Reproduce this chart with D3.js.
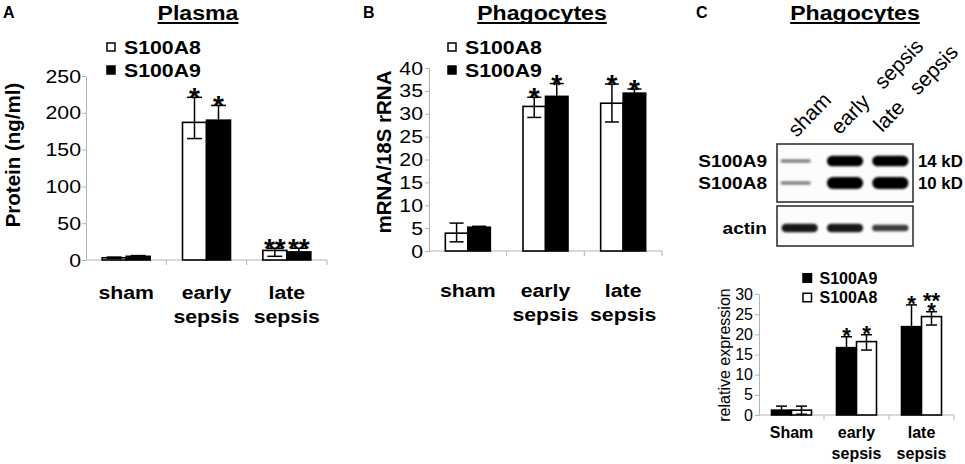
<!DOCTYPE html>
<html>
<head>
<meta charset="utf-8">
<script src="https://cdn.jsdelivr.net/npm/d3@7"></script>
<style>
  body { margin: 0; background: #fff; }
  svg { font-family: "Liberation Sans", Arial, sans-serif; }
</style>
</head>
<body>
<script>
const width = 965;
const height = 464;

// categories
const groupsAB = ["sham", "early sepsis", "late sepsis"];
const groupsC = ["Sham", "early sepsis", "late sepsis"];

// panel A - plasma protein (ng/ml)
const plasmaA8 = [3, 187, 13];
const plasmaA8Lo = [2, 165, 5];
const plasmaA8Hi = [4, 221, 16];
const plasmaA9 = [5, 190, 11];
const plasmaA9Lo = [4, 170, 6];
const plasmaA9Hi = [6, 210, 16];
const plasmaStarsA8 = ["", "*", "**"];
const plasmaStarsA9 = ["", "*", "**"];

// panel B - phagocyte mRNA/18S rRNA
const mrnaA8 = [3.9, 31.6, 32.3];
const mrnaA8Lo = [2.0, 29.2, 28.2];
const mrnaA8Hi = [6.1, 33.6, 36.5];
const mrnaA9 = [5.2, 33.8, 34.5];
const mrnaA9Lo = [5.0, 31.0, 33.6];
const mrnaA9Hi = [5.4, 36.6, 35.4];
const mrnaStarsA8 = ["", "*", "*"];
const mrnaStarsA9 = ["", "*", "*"];

// panel C - relative expression from blot
const relA9 = [1.2, 16.7, 21.9];
const relA9Lo = [0.2, 14.0, 16.5];
const relA9Hi = [2.2, 19.4, 27.3];
const relA8 = [1.2, 18.2, 24.4];
const relA8Lo = [0.2, 16.1, 22.3];
const relA8Hi = [2.2, 19.9, 25.6];
const relStarsA9 = ["", "*", "*"];
const relStarsA8 = ["", "*", "**|*"];

// blot lanes and band intensities (0..1)
const blotLanes = ["sham", "early\u00a0\u00a0\u00a0sepsis", "late\u00a0\u00a0\u00a0sepsis"];
const blotA9 = [0.15, 0.85, 0.85];
const blotA8 = [0.15, 1.0, 1.0];
const blotActin = [0.65, 0.65, 0.45];

const tickAB = [0, 50, 100, 150, 200, 250];
const tickB = d3.range(0, 41, 5);
const tickC = d3.range(0, 31, 5);

const svg = d3.select("body").append("svg")
  .attr("width", width)
  .attr("height", height);

const defs = svg.append("defs");
defs.append("filter").attr("id", "blur")
  .attr("x", "-20%").attr("y", "-60%").attr("width", "140%").attr("height", "220%")
  .append("feGaussianBlur").attr("stdDeviation", 1.3);

// widen text horizontally like the source figure
function stretch(sel, sx) {
  sel.each(function() {
    const x = +this.getAttribute("x") || 0;
    const y = +this.getAttribute("y") || 0;
    this.setAttribute("transform", `translate(${x},${y}) scale(${sx},1) translate(${-x},${-y})`);
  });
  return sel;
}

function title(cx, str, sx) {
  const t = svg.append("text")
    .attr("x", cx).attr("y", 20)
    .attr("text-anchor", "middle")
    .attr("font-weight", "bold")
    .attr("font-size", 21)
    .text(str);
  stretch(t, sx);
  const w = t.node().getComputedTextLength() * sx;
  svg.append("line")
    .attr("x1", cx - w / 2).attr("x2", cx + w / 2)
    .attr("y1", 23).attr("y2", 23)
    .attr("stroke", "#000").attr("stroke-width", 2);
}

function panelLetter(x, str) {
  svg.append("text").attr("x", x).attr("y", 18)
    .attr("font-weight", "bold").attr("font-size", 16)
    .text(str);
}

function barPanel(cfg) {
  const g = svg.append("g");
  const x = d3.scaleBand().domain(cfg.groups).range(cfg.xr);
  const y = d3.scaleLinear().domain([0, cfg.ymax]).range(cfg.yr);
  const names = cfg.series.map(s => s.name);
  const xs = d3.scaleBand().domain(names)
    .range([x.bandwidth() / 2 - cfg.bw, x.bandwidth() / 2 + cfg.bw]);

  const yAxis = g.append("g")
    .attr("transform", `translate(${cfg.xr[0]},0)`)
    .call(d3.axisLeft(y).tickValues(cfg.ticks).tickSizeInner(4).tickSizeOuter(0).tickPadding(cfg.pad))
    .attr("font-family", null)
    .attr("font-size", cfg.tickSize);
  yAxis.select(".domain").attr("stroke", "#b4b4b4");
  yAxis.selectAll(".tick line").attr("stroke", "#b4b4b4");
  const tl = yAxis.selectAll(".tick text").attr("fill", "#000");
  if (cfg.sx !== 1) stretch(tl, cfg.sx);

  // baseline and group separators
  g.append("line")
    .attr("x1", cfg.xr[0]).attr("x2", cfg.xr[1])
    .attr("y1", y(0)).attr("y2", y(0))
    .attr("stroke", "#b4b4b4");
  g.selectAll(".sep").data(cfg.groups.slice(1).concat(["end"])).join("line")
    .attr("x1", d => d === "end" ? cfg.xr[1] : x(d))
    .attr("x2", d => d === "end" ? cfg.xr[1] : x(d))
    .attr("y1", y(0)).attr("y2", y(0) + 5)
    .attr("stroke", "#b4b4b4");

  cfg.series.forEach(s => {
    g.selectAll(null).data(cfg.groups).join("rect")
      .attr("x", d => x(d) + xs(s.name))
      .attr("y", (d, i) => y(s.values[i]))
      .attr("width", xs.bandwidth())
      .attr("height", (d, i) => y(0) - y(s.values[i]))
      .attr("fill", s.fill)
      .attr("stroke", "#000")
      .attr("stroke-width", 1.6);
  });

  cfg.series.forEach(s => {
    const cx = d => x(d) + xs(s.name) + xs.bandwidth() / 2;
    const eb = g.selectAll(null).data(cfg.groups).join("g").attr("stroke", "#000").attr("stroke-width", 1.5);
    eb.append("line")
      .attr("x1", cx).attr("x2", cx)
      .attr("y1", (d, i) => y(s.lo[i])).attr("y2", (d, i) => y(s.hi[i]));
    eb.append("line")
      .attr("x1", d => cx(d) - cfg.cap / 2).attr("x2", d => cx(d) + cfg.cap / 2)
      .attr("y1", (d, i) => y(s.hi[i])).attr("y2", (d, i) => y(s.hi[i]));
    eb.append("line")
      .attr("x1", d => cx(d) - cfg.cap / 2).attr("x2", d => cx(d) + cfg.cap / 2)
      .attr("y1", (d, i) => y(s.lo[i])).attr("y2", (d, i) => y(s.lo[i]));

    // significance marks, stacked lines in one text element
    cfg.groups.forEach((d, i) => {
      if (!s.stars[i]) return;
      const lines = s.stars[i].split("|");
      const t = g.append("text")
        .attr("x", cx(d))
        .attr("y", y(s.hi[i]) + cfg.starOff - (lines.length - 1) * cfg.starGap)
        .attr("text-anchor", "middle")
        .attr("font-weight", "bold")
        .attr("font-size", cfg.starSize);
      lines.forEach((ln, j) => {
        t.append("tspan")
          .attr("x", cx(d))
          .attr("dy", j === 0 ? 0 : cfg.starGap)
          .text(ln);
      });
    });
  });

  // category labels
  cfg.groups.forEach(d => {
    d.split(" ").forEach((w, j) => {
      const t = g.append("text")
        .attr("x", x(d) + x.bandwidth() / 2)
        .attr("y", cfg.catY + j * cfg.catGap)
        .attr("text-anchor", "middle")
        .attr("font-weight", "bold")
        .attr("font-size", cfg.catSize)
        .text(w);
      if (cfg.sx !== 1) stretch(t, cfg.sx);
    });
  });

  // y label
  g.append("text")
    .attr("transform", `translate(${cfg.ylab[0]},${cfg.ylab[1]}) rotate(-90)`)
    .attr("text-anchor", "middle")
    .attr("dominant-baseline", "central")
    .attr("font-weight", cfg.ylabWeight)
    .attr("font-size", cfg.ylabSize)
    .text(cfg.ylabel);

  // legend
  cfg.legend.order.forEach((si, j) => {
    const s = cfg.series[si];
    const ly = cfg.legend.y + j * cfg.legend.gap;
    g.append("rect")
      .attr("x", cfg.legend.x).attr("y", ly - cfg.legend.box / 2)
      .attr("width", cfg.legend.box).attr("height", cfg.legend.box)
      .attr("fill", s.fill).attr("stroke", "#000").attr("stroke-width", 1.5);
    const t = g.append("text")
      .attr("x", cfg.legend.x + cfg.legend.box + cfg.legend.tx)
      .attr("y", ly + cfg.legend.size * 0.36)
      .attr("font-weight", "bold")
      .attr("font-size", cfg.legend.size)
      .text(s.name);
    if (cfg.sx !== 1) stretch(t, cfg.sx);
  });
}

// ---- Panel A ----
panelLetter(3, "A");
title(198, "Plasma", 1.1);
barPanel({
  groups: groupsAB, xr: [86, 327], yr: [260, 76], ymax: 250, ticks: tickAB,
  bw: 24, cap: 15, pad: 1, tickSize: 19, sx: 1.12,
  series: [
    { name: "S100A8", fill: "#fff", values: plasmaA8, lo: plasmaA8Lo, hi: plasmaA8Hi, stars: plasmaStarsA8 },
    { name: "S100A9", fill: "#000", values: plasmaA9, lo: plasmaA9Lo, hi: plasmaA9Hi, stars: plasmaStarsA9 }
  ],
  starOff: 10, starGap: 10, starSize: 28,
  catY: 299, catGap: 24, catSize: 19,
  ylab: [12, 155], ylabel: "Protein (ng/ml)", ylabSize: 20.5, ylabWeight: "bold",
  legend: { order: [0, 1], x: 107, y: 47, gap: 23, box: 8, tx: 9, size: 19 }
});

// ---- Panel B ----
panelLetter(363, "B");
title(542, "Phagocytes", 1.1);
barPanel({
  groups: groupsAB, xr: [429, 662], yr: [251, 68], ymax: 40, ticks: tickB,
  bw: 22.5, cap: 14, pad: 2, tickSize: 19, sx: 1.12,
  series: [
    { name: "S100A8", fill: "#fff", values: mrnaA8, lo: mrnaA8Lo, hi: mrnaA8Hi, stars: mrnaStarsA8 },
    { name: "S100A9", fill: "#000", values: mrnaA9, lo: mrnaA9Lo, hi: mrnaA9Hi, stars: mrnaStarsA9 }
  ],
  starOff: 10, starGap: 10, starSize: 28,
  catY: 297, catGap: 24, catSize: 19,
  ylab: [383, 152], ylabel: "mRNA/18S rRNA", ylabSize: 20.5, ylabWeight: "bold",
  legend: { order: [0, 1], x: 448, y: 47, gap: 23, box: 8, tx: 9, size: 19 }
});

// ---- Panel C ----
panelLetter(696, "C");
title(855, "Phagocytes", 1.1);

// western blot
const blotX = [777, 913];
const lane = d3.scaleBand().domain(blotLanes).range(blotX).paddingInner(0.2).paddingOuter(0.1);
const rows = [
  { label: "S100A9", kd: "14 kD", y: 161, vals: blotA9 },
  { label: "S100A8", kd: "10 kD", y: 183, vals: blotA8 },
  { label: "actin", kd: "", y: 228, vals: blotActin }
];
svg.append("rect").attr("x", blotX[0]).attr("y", 144).attr("width", blotX[1] - blotX[0]).attr("height", 58)
  .attr("fill", "#fcfcfc").attr("stroke", "#333").attr("stroke-width", 1.6);
svg.append("rect").attr("x", blotX[0]).attr("y", 206).attr("width", blotX[1] - blotX[0]).attr("height", 40)
  .attr("fill", "#fcfcfc").attr("stroke", "#333").attr("stroke-width", 1.6);

const bands = svg.append("g").attr("filter", "url(#blur)");
rows.forEach(r => {
  blotLanes.forEach((l, i) => {
    const v = r.vals[i];
    const faint = v < 0.3;
    const h = 2 + 10 * v;
    bands.append("rect")
      .attr("x", lane(l) - (faint ? 1 : 0))
      .attr("y", r.y - h / 2)
      .attr("width", lane.bandwidth() - (faint ? 6 : 0))
      .attr("height", h)
      .attr("rx", h / 2)
      .attr("fill", faint ? "#555" : "#000")
      .attr("opacity", faint ? 0.75 : 0.4 + 0.6 * Math.min(1, v * 1.3));
  });
  stretch(svg.append("text").attr("x", 767).attr("y", r.y + 6)
    .attr("text-anchor", "end").attr("font-weight", "bold").attr("font-size", 17)
    .text(r.label), 1.12);
  if (r.kd) {
    stretch(svg.append("text").attr("x", 918).attr("y", r.y + 6)
      .attr("font-weight", "bold").attr("font-size", 16)
      .text(r.kd), 1.05);
  }
});

blotLanes.forEach((l, i) => {
  const cx = lane(l) + lane.bandwidth() / 2;
  svg.append("text")
    .attr("transform", `translate(${cx - 3 - 2.5 * i},${138 - 2.5 * i}) rotate(-46)`)
    .attr("font-size", 21)
    .text(l);
});

barPanel({
  groups: groupsC, xr: [759, 954], yr: [415, 294], ymax: 30, ticks: tickC,
  bw: 20, cap: 11, pad: 2, tickSize: 16, sx: 1,
  series: [
    { name: "S100A9", fill: "#000", values: relA9, lo: relA9Lo, hi: relA9Hi, stars: relStarsA9 },
    { name: "S100A8", fill: "#fff", values: relA8, lo: relA8Lo, hi: relA8Hi, stars: relStarsA8 }
  ],
  starOff: 6, starGap: 10, starSize: 22,
  catY: 438, catGap: 21, catSize: 16,
  ylab: [724, 355], ylabel: "relative expression", ylabSize: 16, ylabWeight: "normal",
  legend: { order: [0, 1], x: 803, y: 278, gap: 19.5, box: 8.5, tx: 8, size: 16 }
});
</script>
</body>
</html>
